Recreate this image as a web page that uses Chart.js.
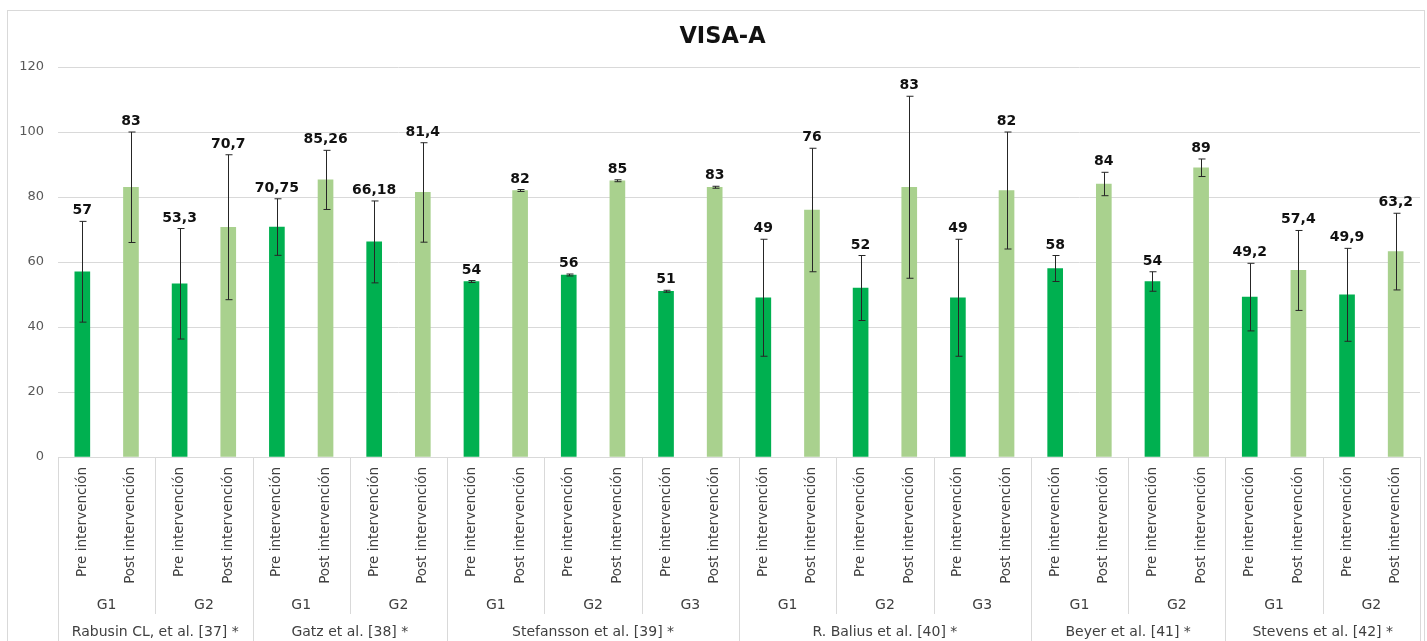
<!DOCTYPE html>
<html>
<head>
<meta charset="utf-8">
<script src="https://cdn.jsdelivr.net/npm/chart.js@4.4.1/dist/chart.umd.min.js"></script>
<style>
  html, body { margin: 0; padding: 0; background: #fff; }
  #wrap { width: 1427px; height: 641px; }
</style>
</head>
<body>
<div id="wrap"><canvas id="visaChart" width="1427" height="641"></canvas></div>
<script>
const chartTitle = 'VISA-A';
const phases = ['Pre intervención', 'Post intervención'];
const groups = ['G1','G2','G1','G2','G1','G2','G3','G1','G2','G3','G1','G2','G1','G2'];
const studies = ['Rabusin CL, et al. [37] *','Gatz et al. [38] *','Stefansson et al. [39] *','R. Balius et al. [40] *','Beyer et al. [41] *','Stevens et al. [42] *'];
const groupsPerStudy = [2, 2, 3, 3, 2, 2];
const preMeans  = [57, 53.3, 70.75, 66.18, 54, 56, 51, 49, 52, 49, 58, 54, 49.2, 49.9];
const postMeans = [83, 70.7, 85.26, 81.4, 82, 85, 83, 76, 83, 82, 84, 89, 57.4, 63.2];
const preSD  = [15.5, 17, 8.7, 12.6, 0.3, 0.3, 0.3, 18, 10, 18, 4, 3, 10.4, 14.3];
const postSD = [17, 22.3, 9.1, 15.3, 0.3, 0.3, 0.3, 19, 28, 18, 3.6, 2.7, 12.3, 11.8];
const yTicks = [0, 20, 40, 60, 80, 100, 120];

const PRE_COLOR = '#00B050';
const POST_COLOR = '#A9D18E';
const GRID = '#D9D9D9';
const FONT = "'DejaVu Sans', Verdana, sans-serif";

// interleave pre / post
const labels = [], values = [], errs = [], colors = [];
preMeans.forEach((v, i) => {
    labels.push(phases[0], phases[1]);
    values.push(v, postMeans[i]);
    errs.push(preSD[i], postSD[i]);
    colors.push(PRE_COLOR, POST_COLOR);
});

const fmt = v => String(v).replace('.', ',');

const extrasPlugin = {
    id: 'extras',
    beforeDraw(chart) {
        const c = chart.ctx;
        c.save();
        c.strokeStyle = GRID;
        c.lineWidth = 1;
        c.strokeRect(7.5, 10.5, 1417, 700);
        // title
        c.fillStyle = '#111';
        c.font = 'bold 22.5px ' + FONT;
        c.textAlign = 'center';
        c.textBaseline = 'middle';
        c.fillText(chartTitle, 722.5, 37);
        c.restore();
    },
    afterDatasetsDraw(chart) {
        const c = chart.ctx;
        const x = chart.scales.x, y = chart.scales.y;
        c.save();
        // error bars
        c.strokeStyle = '#262626';
        c.lineWidth = 1;
        values.forEach((v, i) => {
            const px = Math.round(x.getPixelForValue(i)) + 0.5;
            const top = y.getPixelForValue(v + errs[i]);
            const bot = y.getPixelForValue(v - errs[i]);
            c.beginPath();
            c.moveTo(px, top); c.lineTo(px, bot);
            c.moveTo(px - 3, top); c.lineTo(px + 4, top);
            c.moveTo(px - 3, bot); c.lineTo(px + 4, bot);
            c.stroke();
        });
        // value labels
        c.fillStyle = '#111';
        c.font = 'bold 14px ' + FONT;
        c.textAlign = 'center';
        c.textBaseline = 'alphabetic';
        values.forEach((v, i) => {
            const px = x.getPixelForValue(i);
            const top = y.getPixelForValue(v + errs[i]);
            c.fillText(fmt(v), px, top - 7);
        });
        c.restore();
    },
    afterDraw(chart) {
        const c = chart.ctx;
        const x = chart.scales.x;
        const base = chart.chartArea.bottom;
        const step = x.getPixelForValue(1) - x.getPixelForValue(0);
        const edge = k => x.getPixelForValue(0) + (k - 0.5) * step;
        c.save();
        c.strokeStyle = GRID;
        c.lineWidth = 1;
        // study boundaries (full height) and group boundaries
        const studyEdges = [0];
        let g = 0;
        groupsPerStudy.forEach(n => { g += n; studyEdges.push(g * 2); });
        for (let k = 0; k <= labels.length; k += 2) {
            const px = Math.round(edge(k)) + 0.5;
            const full = studyEdges.includes(k);
            c.beginPath();
            c.moveTo(px, base);
            c.lineTo(px, full ? 641 : 614);
            c.stroke();
        }
        c.fillStyle = '#404040';
        c.font = '14px ' + FONT;
        c.textAlign = 'center';
        c.textBaseline = 'middle';
        // group labels
        groups.forEach((name, i) => {
            const cx = (x.getPixelForValue(2 * i) + x.getPixelForValue(2 * i + 1)) / 2;
            c.fillText(name, cx, 605);
        });
        // study labels
        let start = 0;
        studies.forEach((name, i) => {
            const end = start + groupsPerStudy[i] * 2;
            const cx = (edge(start) + edge(end)) / 2;
            c.fillText(name, cx, 632);
            start = end;
        });
        c.restore();
    }
};

const ctx = document.getElementById('visaChart').getContext('2d');
const chart = new Chart(ctx, {
    type: 'bar',
    data: {
        labels: labels,
        datasets: [{
            data: values,
            backgroundColor: colors,
            barThickness: 15
        }]
    },
    options: {
        responsive: false,
        animation: false,
        layout: { padding: { top: 67, left: 8, right: 7, bottom: 0 } },
        plugins: {
            legend: { display: false },
            tooltip: { enabled: false },
            title: { display: false }
        },
        scales: {
            x: {
                grid: { display: false, drawTicks: false },
                border: { display: true, color: GRID },
                ticks: {
                    autoSkip: false,
                    maxRotation: 90,
                    minRotation: 90,
                    padding: 10,
                    color: '#404040',
                    font: { family: FONT, size: 13.5 }
                },
                afterFit: s => { s.height = 184; }
            },
            y: {
                min: 0,
                max: 120,
                afterBuildTicks: s => { s.ticks = yTicks.map(v => ({ value: v })); },
                grid: { color: GRID, drawTicks: false },
                border: { display: false },
                ticks: {
                    padding: 14,
                    color: '#595959',
                    font: { family: FONT, size: 13 }
                },
                afterFit: s => { s.width = 50; }
            }
        }
    },
    plugins: [extrasPlugin]
});
</script>
</body>
</html>
